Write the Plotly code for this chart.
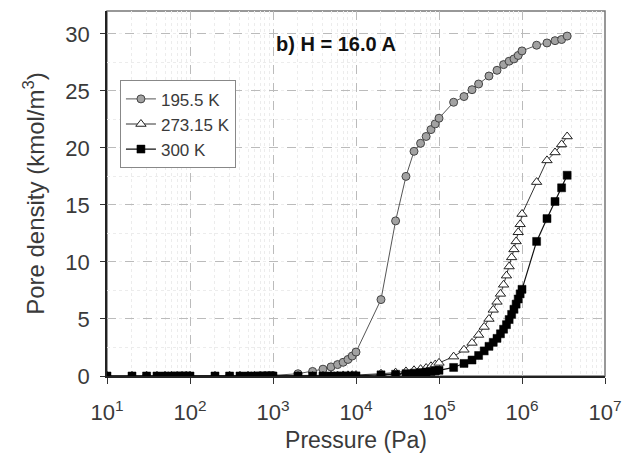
import plotly.graph_objects as go

# ---- data ----
p_195 = [10, 20, 30, 40, 50, 60, 70, 80, 90, 100, 200, 300, 400, 500, 600, 700, 800, 900, 1000,
         2000, 3000, 4000, 5000, 6000, 7000, 8000, 9000, 10000,
         20000, 30000, 40000, 50000, 60000, 70000, 80000, 90000, 100000,
         150000, 200000, 250000, 300000, 400000, 500000, 600000, 700000, 800000, 900000, 1000000,
         1500000, 2000000, 2500000, 3000000, 3500000]
rho_195 = [0, 0, 0, 0, 0, 0, 0, 0, 0, 0, 0, 0, 0, 0, 0, 0.02, 0.03, 0.04, 0.05,
           0.2, 0.4, 0.6, 0.8, 1.0, 1.2, 1.45, 1.75, 2.1,
           6.7, 13.6, 17.5, 19.7, 20.4, 21.0, 21.6, 22.1, 22.6,
           24.0, 24.5, 25.1, 25.6, 26.3, 26.8, 27.3, 27.6, 27.8, 28.1, 28.5,
           29.0, 29.2, 29.4, 29.5, 29.8]

p_273 = [10, 20, 30, 40, 50, 60, 70, 80, 90, 100, 200, 300, 400, 500, 600, 700, 800, 900, 1000,
         2000, 3000, 4000, 5000, 6000, 7000, 8000, 9000, 10000,
         20000, 30000, 40000, 50000, 60000, 70000, 80000, 90000, 100000,
         150000, 200000, 250000, 300000, 350000, 400000, 450000, 500000, 550000, 600000,
         650000, 700000, 750000, 800000, 850000, 900000, 950000, 1000000,
         1500000, 2000000, 2500000, 3000000, 3500000]
rho_273 = [0, 0, 0, 0, 0, 0, 0, 0, 0, 0, 0, 0, 0, 0, 0, 0, 0, 0, 0,
           0, 0, 0.02, 0.03, 0.04, 0.05, 0.06, 0.07, 0.08,
           0.2, 0.3, 0.4, 0.5, 0.6, 0.7, 0.85, 1.0, 1.15,
           1.7, 2.3, 2.9, 3.6, 4.3, 5.0, 5.8, 6.5, 7.2, 8.0,
           8.8, 9.6, 10.4, 11.1, 11.8, 12.6, 13.3, 14.2,
           17.0, 18.9, 19.6, 20.3, 21.0]

p_300 = [10, 20, 30, 40, 50, 60, 70, 80, 90, 100, 200, 300, 400, 500, 600, 700, 800, 900, 1000,
         2000, 3000, 4000, 5000, 6000, 7000, 8000, 9000, 10000,
         20000, 30000, 40000, 50000, 60000, 70000, 80000, 90000, 100000,
         150000, 200000, 250000, 300000, 350000, 400000, 450000, 500000, 550000, 600000,
         650000, 700000, 750000, 800000, 850000, 900000, 950000, 1000000,
         1500000, 2000000, 2500000, 3000000, 3500000]
rho_300 = [0, 0, 0, 0, 0, 0, 0, 0, 0, 0, 0, 0, 0, 0, 0, 0, 0, 0, 0,
           0, 0, 0, 0, 0, 0, 0, 0, 0.01,
           0.1, 0.15, 0.2, 0.25, 0.3, 0.35, 0.4, 0.45, 0.5,
           0.75, 1.1, 1.4, 1.8, 2.2, 2.6, 2.95, 3.3, 3.7, 4.1,
           4.5, 4.95, 5.4, 5.85, 6.3, 6.75, 7.2, 7.6,
           11.8, 13.8, 15.3, 16.5, 17.6]

x_tickvals = [1e1, 1e2, 1e3, 1e4, 1e5, 1e6, 1e7]
x_ticktext = ["10<sup>1</sup>", "10<sup>2</sup>", "10<sup>3</sup>", "10<sup>4</sup>",
              "10<sup>5</sup>", "10<sup>6</sup>", "10<sup>7</sup>"]
y_tickvals = [0, 5, 10, 15, 20, 25, 30]

FONT = "Liberation Sans, Arial, sans-serif"
TXT = "#3a3a3a"

fig = go.Figure()
fig.add_trace(go.Scatter(
    x=p_195, y=rho_195, name="195.5 K", mode="lines+markers",
    line=dict(color="#555555", width=1),
    marker=dict(symbol="circle", size=8, color="#a2a2a2", line=dict(color="#444444", width=1)),
))
fig.add_trace(go.Scatter(
    x=p_273, y=rho_273, name="273.15 K", mode="lines+markers",
    line=dict(color="#333333", width=1),
    marker=dict(symbol="triangle-up", size=9, color="white", line=dict(color="#222222", width=1)),
))
fig.add_trace(go.Scatter(
    x=p_300, y=rho_300, name="300 K", mode="lines+markers",
    line=dict(color="#111111", width=1.2),
    marker=dict(symbol="square", size=8, color="black", line=dict(color="black", width=0.5)),
))

fig.update_layout(
    width=633, height=463,
    margin=dict(l=107, r=20, t=11, b=87),
    paper_bgcolor="white", plot_bgcolor="white",
    font=dict(family=FONT, color=TXT),
    showlegend=True,
    legend=dict(
        x=0.026, y=0.81, xanchor="left", yanchor="top",
        bgcolor="white", bordercolor="#888888", borderwidth=1,
        font=dict(size=17, family=FONT, color=TXT),
        tracegroupgap=0,
    ),
    annotations=[dict(
        text="<b>b) H = 16.0 A</b>", x=0.46, y=0.91, xref="paper", yref="paper",
        xanchor="center", yanchor="middle",
        showarrow=False, font=dict(size=20, family=FONT, color="#111111"),
    )],
    shapes=[dict(type="rect", xref="paper", yref="paper", x0=0, y0=0, x1=1, y1=1,
                 line=dict(color="#777777", width=1.5), layer="below")],
)

fig.update_xaxes(
    type="log", range=[1, 7],
    tickvals=x_tickvals, ticktext=x_ticktext,
    tickfont=dict(size=22, family=FONT, color=TXT),
    ticks="outside", ticklen=6, tickcolor="#333333",
    ticklabelstandoff=10,
    showline=True, linecolor="#222222", linewidth=1.5,
    showgrid=True, gridcolor="#bbbbbb", griddash="dash", gridwidth=1,
    minor=dict(showgrid=True, gridcolor="#ececec", griddash="dot", dtick="D1"),
    title=dict(text="Pressure (Pa)", font=dict(size=23, family=FONT, color=TXT), standoff=8),
    zeroline=False,
)
fig.update_yaxes(
    range=[0, 32],
    tickvals=y_tickvals,
    tickfont=dict(size=22, family=FONT, color=TXT),
    ticks="outside", ticklen=5, tickcolor="#333333",
    ticklabelstandoff=6,
    showline=True, linecolor="#222222", linewidth=1.5,
    showgrid=True, gridcolor="#bbbbbb", griddash="dash", gridwidth=1,
    minor=dict(showgrid=True, gridcolor="#ececec", griddash="dot", dtick=2.5),
    title=dict(text="Pore density (kmol/m<sup>3</sup>)", font=dict(size=24, family=FONT, color=TXT), standoff=14),
    zeroline=False,
)

fig.write_html("out.html")
